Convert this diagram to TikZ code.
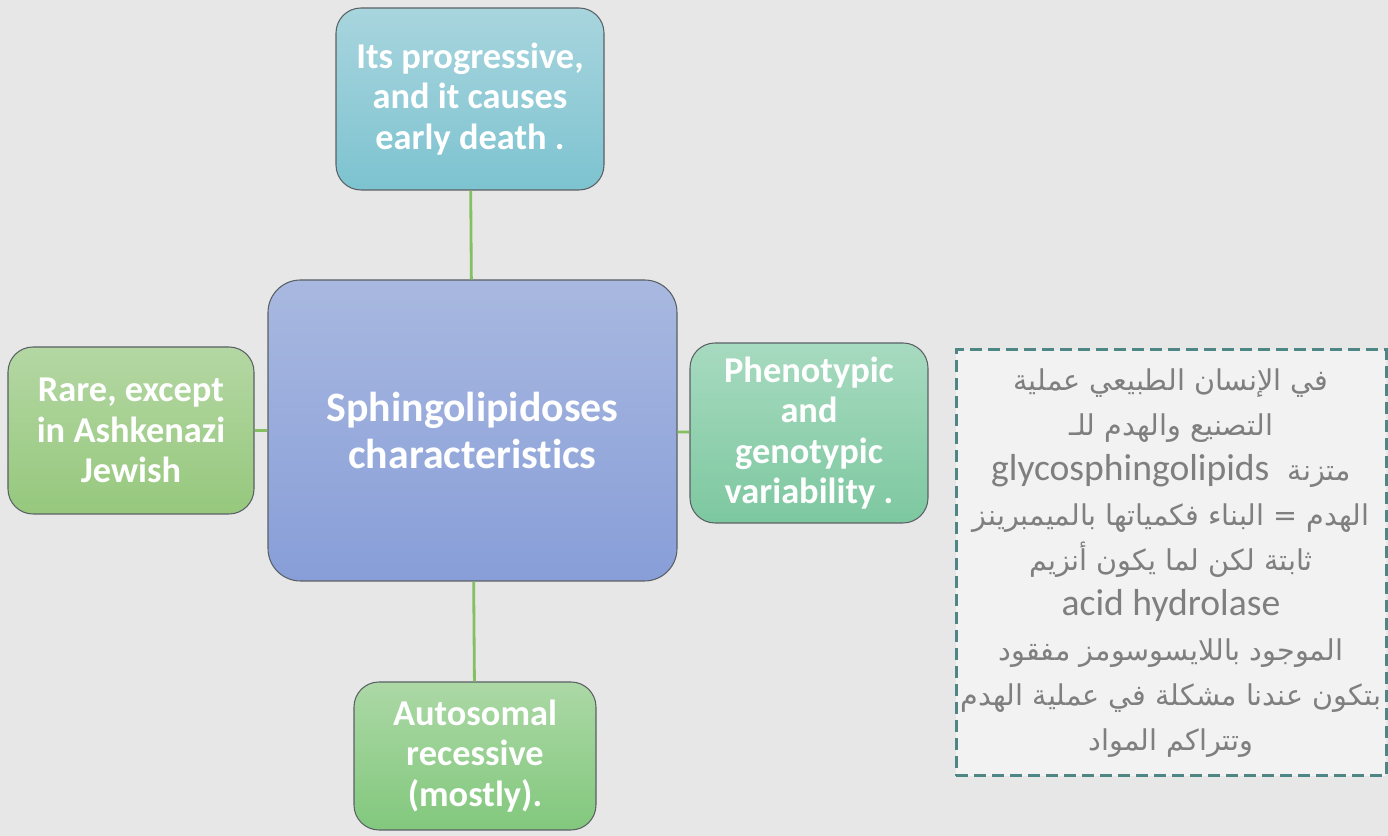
\documentclass[tikz,border=0pt]{standalone}
\usepackage{fontspec}
\setmainfont{Carlito}[Ligatures={NoCommon}]
\newfontfamily\arabicfont[Script=Arabic]{DejaVu Sans}
\TeXXeTstate=1
\usepackage{tikz}

\definecolor{pagebg}{HTML}{E7E7E7}
\definecolor{linkgreen}{HTML}{84C061}
\definecolor{boxline}{HTML}{5A6064}
\definecolor{notefill}{HTML}{F2F2F2}
\definecolor{notedash}{HTML}{4E8585}
\definecolor{notetext}{HTML}{7F7F7F}
\definecolor{blueTop}{RGB}{168,184,224}
\definecolor{blueBot}{RGB}{136,158,216}
\definecolor{tealTop}{RGB}{168,213,222}
\definecolor{tealBot}{RGB}{125,195,208}
\definecolor{leafTop}{RGB}{180,215,163}
\definecolor{leafBot}{RGB}{150,200,125}
\definecolor{mintTop}{RGB}{167,218,192}
\definecolor{mintBot}{RGB}{125,200,160}
\definecolor{grassTop}{RGB}{172,216,166}
\definecolor{grassBot}{RGB}{130,200,125}

\newcommand{\ar}[1]{{\arabicfont\fontsize{16.3}{25.6}\selectfont\beginR #1\endR}}

\tikzset{
	card/.style={draw=boxline, line width=0.6pt, rounded corners=0.5cm, align=center,
		text=white, font=\bfseries\fontsize{20.7}{23}\selectfont, inner sep=0pt},
	link/.style={draw=linkgreen, line width=1.6pt}
}

\begin{document}
\begin{tikzpicture}
	\fill[pagebg] (0,0) rectangle (27.76,16.72);
	\useasboundingbox (0,0) rectangle (27.76,16.72);

	\node[card, rounded corners=0.65cm, minimum width=8.18cm, minimum height=6.02cm,
		top color=blueTop, bottom color=blueBot,
		font=\bfseries\fontsize{23.8}{26.5}\selectfont] (1) at (9.45,8.11) {Sphingolipidoses\\characteristics};
	\node[card, minimum width=5.36cm, minimum height=3.64cm,
		top color=tealTop, bottom color=tealBot] (2) at (9.40,14.74) {Its progressive,\\and it causes\\early death .};
	\node[card, minimum width=4.92cm, minimum height=3.34cm,
		top color=leafTop, bottom color=leafBot] (3) at (2.62,8.11) {Rare, except\\in Ashkenazi\\Jewish};
	\node[card, minimum width=4.76cm, minimum height=3.60cm,
		top color=mintTop, bottom color=mintBot] (4) at (16.18,8.06) {Phenotypic\\and\\genotypic\\variability .};
	\node[card, minimum width=4.84cm, minimum height=2.96cm,
		top color=grassTop, bottom color=grassBot] (5) at (9.50,1.60) {Autosomal\\recessive\\(mostly).};

	\node[draw=notedash, fill=notefill, line width=1.7pt, dash pattern=on 0.24cm off 0.12cm,
		minimum width=8.60cm, minimum height=8.52cm, inner xsep=0pt, align=center, text=notetext,
		font=\fontsize{21.4}{25.6}\selectfont] (6) at (23.42,5.46) {%
		\ar{في الإنسان الطبيعي عملية}\\
		\ar{التصنيع والهدم للـ}\\
		\ar{متزنة \ \beginL{\rmfamily\fontsize{21.4}{25.6}\selectfont glycosphingolipids}\endL{}}\\
		\ar{الهدم = البناء فكمياتها بالميمبرينز}\\
		\ar{ثابتة لكن لما يكون أنزيم}\\
		acid hydrolase\\
		\ar{الموجود باللايسوسومز مفقود}\\
		\ar{بتكون عندنا مشكلة في عملية الهدم}\\
		\ar{وتتراكم المواد}};

	\path [link] (2) edge (1);
	\path [link] (1) edge (3);
	\path [link] (1) edge (4);
	\path [link] (1) edge (5);
\end{tikzpicture}
\end{document}
